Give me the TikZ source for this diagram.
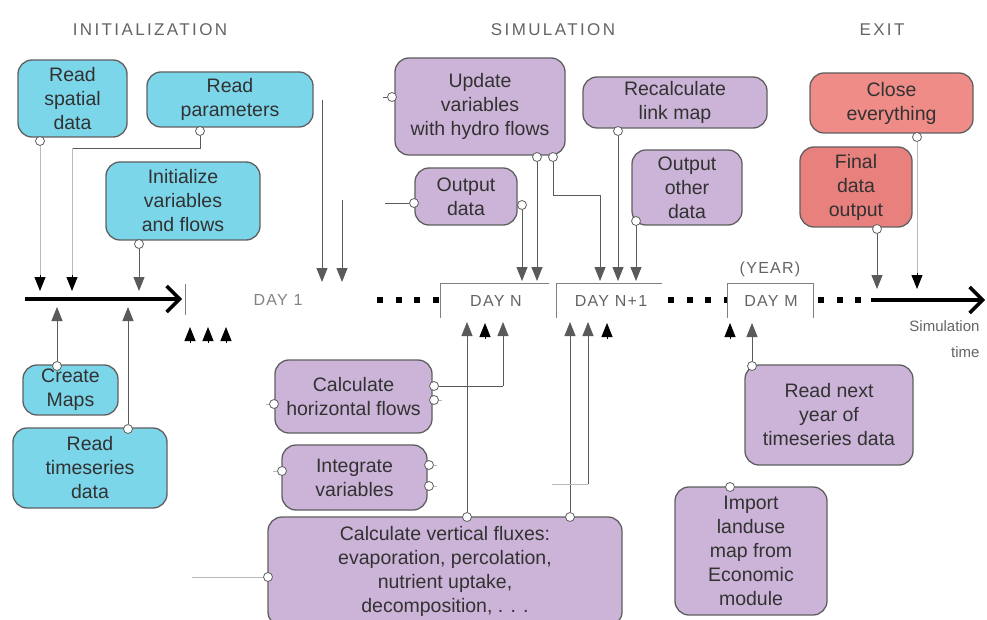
\documentclass[tikz,border=0pt]{standalone}
\usepackage{fontspec}
\setmainfont{Liberation Sans}
\newfontfamily\spacedfont[LetterSpace=14]{Liberation Sans}
\newfontfamily\dayfont[LetterSpace=8]{Liberation Sans}
\usetikzlibrary{arrows.meta}

\definecolor{cyanfill}{RGB}{124,214,234}
\definecolor{lilacfill}{RGB}{204,180,216}
\definecolor{salmonfill}{RGB}{240,140,136}
\definecolor{salmondark}{RGB}{232,128,126}
\definecolor{edgegray}{RGB}{95,95,95}
\definecolor{textgray}{RGB}{50,50,50}
\definecolor{linegray}{RGB}{90,90,90}
\definecolor{faintgray}{RGB}{185,185,185}
\definecolor{labelgray}{RGB}{100,100,100}

\begin{document}
\begin{tikzpicture}[x=1pt,y=-1pt,
  box/.style={draw=edgegray, line width=1.3pt, rounded corners=14pt,
    align=center, inner sep=2pt, text=textgray,
    font=\fontsize{19.5}{24}\selectfont},
  cbox/.style={box, fill=cyanfill},
  pbox/.style={box, fill=lilacfill},
  sbox/.style={box, fill=salmonfill},
  port/.style={circle, draw=edgegray, fill=white, line width=0.8pt,
    inner sep=0pt, minimum size=9pt},
  conn/.style={draw=linegray, line width=0.9pt},
  faint/.style={draw=faintgray, line width=0.9pt},
  tip/.style={-{Triangle[length=14pt,width=11pt]}},
  headonly/.style={draw=black, line width=0.9pt, -{Triangle[length=14pt,width=11pt]}},
  phase/.style={text=labelgray, font=\spacedfont\fontsize{17}{20}\selectfont},
  daylabel/.style={text=labelgray, font=\dayfont\fontsize{16}{19}\selectfont},
  bracket/.style={draw=gray, line width=0.9pt},
  dots/.style={line width=6pt, dash pattern=on 6pt off 12.5pt},
  timeaxis/.style={line width=4pt,
    -{Straight Barb[length=13pt,width=26pt,line width=3.5pt]}},
]
\useasboundingbox (0,0) rectangle (987,620);

% ---------- phase headings ----------
\node[phase] (hinit) at (150,30) {INITIALIZATION};
\node[phase] (hsim)  at (553,30) {SIMULATION};
\node[phase] (hexit) at (882,30) {EXIT};

% ---------- initialization boxes ----------
\node[cbox, minimum width=109pt, minimum height=77pt] (rsd)  at (72.5,98.5) {Read\\spatial\\data};
\node[cbox, minimum width=166pt, minimum height=55pt] (rpar) at (230,99.5) {Read\\parameters};
\node[cbox, minimum width=154pt, minimum height=78pt] (init) at (183,201) {Initialize\\variables\\and flows};
\node[cbox, minimum width=95pt,  minimum height=50pt] (cmap) at (70.5,390) {Create\\Maps};
\node[cbox, minimum width=154pt, minimum height=80pt] (rts)  at (90,468) {Read\\timeseries\\data};

% ---------- simulation boxes ----------
\node[pbox, minimum width=170pt, minimum height=97pt] (upd)   at (480,106.5) {Update\\variables\\with hydro flows};
\node[pbox, minimum width=102pt, minimum height=57pt] (outd)  at (466,196.5) {Output\\data};
\node[pbox, minimum width=184pt, minimum height=51pt] (recal) at (675,102.5) {Recalculate\\link map};
\node[pbox, minimum width=110pt, minimum height=75pt] (outo)  at (687,187.5) {Output\\other\\data};
\node[pbox, minimum width=157pt, minimum height=73pt] (hflow) at (353.5,396.5) {Calculate\\horizontal flows};
\node[pbox, minimum width=145pt, minimum height=65pt] (integ) at (354.5,477.5) {Integrate\\variables};
\node[pbox, minimum width=354pt, minimum height=109pt] (vflux) at (445,571.5)
  {Calculate vertical fluxes:\\evaporation, percolation,\\nutrient uptake,\\decomposition, . . .};
\node[pbox, minimum width=168pt, minimum height=100pt] (rnext) at (829,415) {Read next\\year of\\timeseries data};
\node[pbox, minimum width=152pt, minimum height=128pt] (imp)   at (751,551) {Import\\landuse\\map from\\Economic\\module};

% ---------- exit boxes ----------
\node[sbox, minimum width=163pt, minimum height=60pt] (close) at (891.5,103) {Close\\everything};
\node[box, fill=salmondark, minimum width=112pt, minimum height=80pt] (final) at (856,187) {Final\\data\\output};

% ---------- time axis ----------
\draw[timeaxis] (25,299) -- (182,299);
\draw[bracket] (185,284) -- (185,315);
\node[daylabel, text=faintgray!70!black] (day1) at (278,300) {DAY 1};
\draw[dots] (377,300) -- (441,300);
\draw[bracket] (440,318) -- (440,283) -- (549,283);
\node[daylabel] (dayn) at (496,301) {DAY N};
\draw[bracket] (556,318) -- (556,283) -- (662,283);
\node[daylabel] (daynn) at (611,301) {DAY N+1};
\draw[dots] (668,300) -- (727,300);
\draw[bracket] (727,318) -- (727,283) -- (813,283) -- (813,318);
\node[daylabel] (year) at (770,269) {(YEAR)};
\node[daylabel] (daym) at (771,301) {DAY M};
\draw[dots] (818,300) -- (866,300);
\draw[timeaxis] (871,300) -- (985,300);
\node[text=labelgray, font=\fontsize{15}{18}\selectfont, anchor=east] (simt) at (983,326) {Simulation};
\node[text=labelgray, font=\fontsize{15}{18}\selectfont, anchor=east] (simt2) at (983,352) {time};

% ---------- initialization connectors ----------
\node[port] (prsd)  at (40,141) {};
\node[port] (prpar) at (200,131) {};
\node[port] (pinit) at (139,244) {};
\node[port] (pcmap) at (57,366) {};
\node[port] (prts)  at (128,429) {};
\coordinate (d1) at (40,291);
\coordinate (j1) at (72,148);
\coordinate (d2) at (72,291);
\coordinate (d3) at (139,291);
\coordinate (u1) at (57,307);
\coordinate (u2) at (128,307);
\draw[faint] (prsd) -- (40,275);
\draw[headonly] (40,275) -- (d1);
\draw[conn] (prpar) |- (j1);
\draw[faint] (j1) -- (72,275);
\draw[headonly] (72,275) -- (d2);
\draw[conn, tip] (pinit) -- (d3);
\draw[conn, tip] (pcmap) -- (u1);
\draw[conn, tip] (prts) -- (u2);

% arrivals on the first day
\coordinate (s1) at (322,100);
\coordinate (s2) at (342,200);
\coordinate (d4) at (322,282);
\coordinate (d5) at (342,282);
\draw[conn, tip] (s1) -- (d4);
\draw[conn, tip] (s2) -- (d5);
\foreach \x/\n in {190/a,208/b,226/c}{
  \coordinate (f\n) at (\x,343);
  \coordinate (g\n) at (\x,327);
  \draw[headonly] (f\n) -- (g\n);
}

% ---------- simulation connectors, upper side ----------
\node[port] (pupdl) at (392,97) {};
\node[port] (poutl) at (414,203) {};
\node[port] (poutr) at (522,205) {};
\node[port] (pupd1) at (537,157) {};
\node[port] (pupd2) at (553,157) {};
\node[port] (precal) at (618,131) {};
\node[port] (pouto) at (636,221) {};
\coordinate (e1) at (383,97);
\coordinate (e2) at (385,203);
\coordinate (n1) at (522,281);
\coordinate (n2) at (537,281);
\coordinate (jb) at (600,195);
\coordinate (n3) at (600,281);
\coordinate (n4) at (618,281);
\coordinate (n5) at (636,281);
\draw[conn] (e1) -- (pupdl);
\draw[conn] (e2) -- (poutl);
\draw[conn, tip] (poutr) -- (n1);
\draw[conn, tip] (pupd1) -- (n2);
\draw[conn, tip] (pupd2) |- (jb) -- (n3);
\draw[conn, tip] (precal) -- (n4);
\draw[conn, tip] (pouto) -- (n5);

% ---------- simulation connectors, lower side ----------
\node[port] (phfr)  at (434,386) {};
\node[port] (phfr2) at (434,400) {};
\node[port] (phfl)  at (274,404) {};
\node[port] (pinr1) at (429,465) {};
\node[port] (pinr2) at (429,486) {};
\node[port] (pinl)  at (282,471) {};
\node[port] (pvf1)  at (467,517) {};
\node[port] (pvf2)  at (570,517) {};
\node[port] (pvfl)  at (268,577) {};
\node[port] (prnext) at (752,366) {};
\node[port] (pimp)  at (730,487) {};
\coordinate (jh) at (503,386);
\coordinate (m3) at (503,322);
\coordinate (m1) at (467,322);
\coordinate (k1) at (570,322);
\coordinate (jv) at (552,484);
\coordinate (jv2) at (588,484);
\coordinate (k2) at (588,322);
\coordinate (y2) at (752,323);
\coordinate (e3) at (192,577);
\draw[conn] (phfr) -- (jh);
\draw[conn, tip] (jh) -- (m3);
\draw[conn, tip] (pvf1) -- (m1);
\draw[conn, tip] (pvf2) -- (k1);
\draw[faint] (jv) -- (jv2);
\draw[conn, tip] (jv2) -- (k2);
\draw[conn, tip] (prnext) -- (y2);
\draw[faint] (e3) -- (pvfl);
\draw[faint] (phfl) -- ++(-8,0);
\draw[faint] (pinl) -- ++(-9,0);
\draw[faint] (pinr1) -- ++(8,0);
\draw[faint] (pinr2) -- ++(8,0);
\draw[faint] (phfr2) -- ++(8,0);
\foreach \x/\n in {485/p,607/q,730/r}{
  \coordinate (h\n) at (\x,339);
  \coordinate (t\n) at (\x,323);
  \draw[headonly] (h\n) -- (t\n);
}

% ---------- exit connectors ----------
\node[port] (pfinal) at (877,229) {};
\node[port] (pclose) at (917,137) {};
\coordinate (x1) at (877,289);
\coordinate (x2) at (917,289);
\draw[conn, tip] (pfinal) -- (x1);
\draw[faint] (pclose) -- (917,273);
\draw[headonly] (917,273) -- (x2);

\end{tikzpicture}
\end{document}
